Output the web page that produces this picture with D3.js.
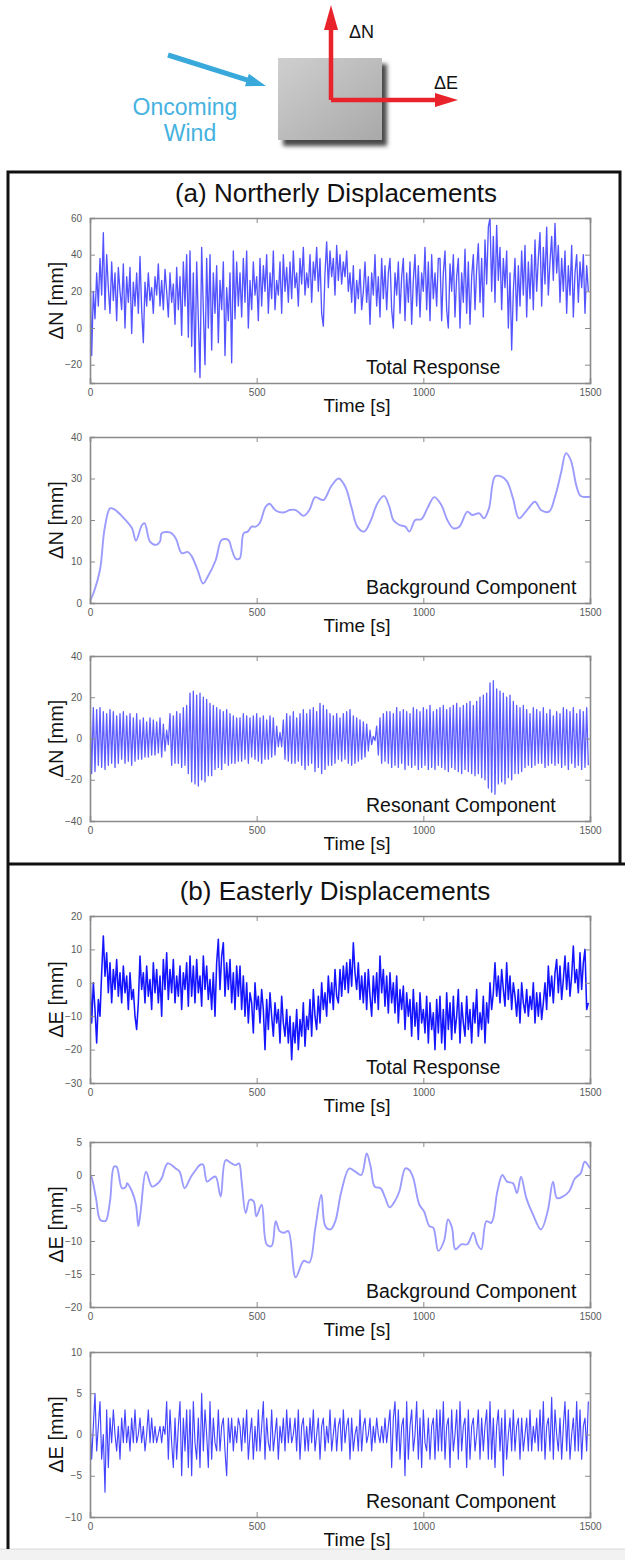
<!DOCTYPE html>
<html><head><meta charset="utf-8">
<script src="https://cdn.jsdelivr.net/npm/d3@7"></script>
<style>
html,body{margin:0;padding:0;background:#fff;}
svg{display:block;font-family:"Liberation Sans",Arial,sans-serif;}
</style></head>
<body>
<script>
// ---------------- DATA ----------------
const xTicks = [0, 500, 1000, 1500];
const dt = 5; // sampling step of the dense series [s]

// (a) Northerly – total response [mm]
const nTotal = [
 35,-15,20,5,30,12,38,18,52,10,40,22,8,36,15,30,4,33,20,10,35,0,28,14,33,-3,25,12,30,8,
 39,10,-8,25,12,30,15,22,8,28,18,35,12,26,10,32,20,6,30,14,24,2,33,10,28,-4,36,12,40,-5,
 42,-10,30,-24,36,5,-27,44,10,-20,38,0,40,-12,30,8,34,-8,26,10,36,-15,22,4,30,-19,42,5,36,12,
 30,6,38,14,42,0,26,10,36,18,28,4,38,12,34,20,40,8,30,16,42,10,26,18,36,8,40,20,33,14,
 36,16,42,22,30,12,38,24,44,18,30,22,40,14,36,26,44,20,38,8,1,30,47,22,42,28,38,18,45,26,
 40,24,36,28,42,20,30,14,34,8,26,16,32,10,20,36,14,28,2,30,18,40,12,28,6,38,16,34,10,30,
 38,10,0,30,18,36,8,28,38,4,30,14,36,2,26,40,12,34,6,30,20,44,10,36,4,40,16,30,12,38,
 38,4,30,42,10,0,35,20,40,6,28,38,0,30,14,43,8,36,2,28,40,10,32,46,14,38,6,48,24,55,
 60,20,50,14,56,26,44,10,38,22,42,0,30,-12,20,38,4,34,12,42,18,45,6,36,16,40,10,48,20,38,
 52,12,44,24,55,18,36,50,26,57,30,45,14,38,20,42,8,34,18,45,6,30,40,14,36,22,40,8,34,20
];
// (a) Northerly – background component
const nBgTime = [0,12,30,44,60,72,102,126,138,156,164,180,198,210,215,240,257,275,293,305,323,339,353,377,395,415,425,437,449,461,473,485,497,509,527,539,557,581,599,617,641,658,676,700,724,746,766,784,802,822,842,862,882,898,910,928,946,958,976,994,1012,1033,1054,1072,1090,1108,1132,1146,1168,1182,1197,1215,1233,1251,1269,1287,1311,1335,1353,1377,1395,1413,1428,1442,1460,1472,1500];
const nBgVal  = [0.5,2.7,8,18,22.8,22.6,20.4,18,15,18.8,19.2,14.8,14,14.8,16.8,17,15.6,12,12.3,11.3,7.9,4.7,6.3,10.3,15.2,15.2,13,10.7,10.7,16.8,17.2,18.4,18.4,19.2,23.2,23.9,22.3,21.8,22.4,22.4,21,22.4,25.5,24.8,28.2,30,28,23.2,18.4,17.2,19.8,24,25.8,23.2,20,18.8,18.4,17.2,20,20.2,22.8,25.5,23.6,20,18,18.4,22,21.2,21.6,20.4,22.8,30.5,30.5,29.3,25.2,20.4,22.4,24.4,22.4,22,25.6,31.3,36.1,34.5,28,25.8,25.6];
// (a) Northerly – resonant component
const nRes = [
 18,-17,15,-16,14,-13,15,-14,13,-15,12,-13,14,-12,13,-14,11,-12,12,-10,13,-12,11,-11,12,-13,10,-11,12,-10,
 9,-10,10,-9,8,-9,10,-8,9,-8,8,-7,10,-9,7,-6,4,-3,12,-13,11,-12,13,-12,12,-14,15,-13,16,-17,
 22,-21,23,-22,21,-23,22,-20,20,-21,19,-18,17,-18,16,-15,15,-14,14,-15,13,-12,14,-13,12,-12,11,-12,10,-11,
 10,-11,12,-10,11,-12,10,-9,11,-10,12,-11,10,-12,11,-10,9,-10,11,-9,10,-8,6,-4,3,-4,9,-10,12,-11,
 11,-12,13,-12,10,-11,12,-13,14,-15,12,-13,14,-12,15,-16,13,-14,17,-17,16,-15,14,-13,12,-13,11,-12,12,-10,
 10,-11,12,-10,13,-12,14,-13,11,-12,10,-11,9,-10,8,-9,7,-6,4,-3,1,-1,6,-8,10,-12,12,-11,13,-12,
 13,-14,12,-13,15,-14,13,-12,14,-15,13,-13,12,-14,15,-13,14,-15,13,-14,15,-13,14,-15,16,-14,13,-15,14,-13,
 15,-14,16,-15,14,-16,15,-14,16,-15,17,-16,15,-17,16,-15,17,-16,18,-17,16,-18,18,-17,20,-19,21,-20,22,-24,
 27,-26,28,-27,24,-22,23,-21,22,-22,20,-19,21,-20,18,-17,16,-17,15,-16,16,-14,14,-13,12,-14,15,-13,14,-12,
 13,-12,15,-14,12,-13,14,-12,11,-13,13,-12,12,-14,15,-13,14,-15,13,-12,15,-14,12,-13,14,-15,13,-14,15,-13
];
// (b) Easterly – total response
const eTotal = [
 2,-12,0,-8,-18,-5,-10,3,14,2,9,-3,6,-6,4,-2,7,-4,3,-6,5,-3,2,-8,3,-5,-2,-10,-14,-6,
 8,-2,3,-6,5,-4,1,-8,6,-3,4,-6,2,-10,7,-2,9,-5,4,-3,7,-6,2,-4,5,-8,3,-2,6,-7,
 8,-4,5,-6,7,-3,2,-7,8,-2,5,-5,1,-8,3,-10,6,13,-2,8,12,-4,6,-2,7,-6,3,-8,5,-4,
 5,-8,2,-10,0,-12,-3,-6,-15,0,-8,-4,-12,-2,-8,-20,-5,-14,-3,-10,-16,-6,-12,-8,-18,-4,-12,-16,-8,-18,
 -10,-23,-12,-18,-8,-20,-11,-16,-6,-19,-10,-14,-5,-16,-2,-10,-14,-4,-12,0,-8,-3,-10,2,-6,0,-8,4,-4,-6,
 4,-4,5,-2,6,-3,7,-1,12,3,-2,6,-5,2,-6,3,-8,4,-4,-10,2,-6,3,-8,8,-3,4,-7,2,-9,
 3,-6,0,-9,2,-12,-2,-8,-1,-14,-3,-10,-5,-16,-2,-13,-6,-17,-3,-12,-8,-15,-4,-18,-6,-14,-9,-20,-5,-15,
 -4,-18,-8,-20,-3,-14,-6,-17,-4,-15,-10,-2,-18,-6,-12,-16,-4,-14,-8,-18,-6,-12,-2,-16,-9,-14,-4,-18,-6,-12,
 0,-8,-3,6,-4,2,-6,4,-2,-7,6,-5,2,-8,0,-4,-10,-2,-12,0,-6,-9,-2,-10,-4,-8,0,-12,-3,-10,
 -3,-11,-6,0,-8,5,-4,2,-6,3,7,-3,5,-5,1,8,-2,6,-4,2,11,0,4,-3,9,-2,6,10,-8,-6
];
// (b) Easterly – background component
const eBgTime = [0,4,18,30,42,48,60,72,80,96,108,111,126,138,145,152,168,186,204,215,233,257,269,284,303,317,329,339,351,365,377,392,407,425,437,447,455,467,479,491,499,515,530,545,557,569,583,595,617,641,658,676,694,706,722,736,754,778,796,814,830,842,854,872,884,899,914,928,946,958,970,988,1002,1018,1030,1045,1062,1074,1086,1096,1114,1132,1150,1162,1174,1189,1204,1222,1237,1251,1269,1281,1293,1309,1329,1353,1373,1389,1401,1419,1437,1455,1472,1484,1500];
const eBgVal  = [0,-0.25,-3.5,-6.75,-7,-6.9,-4,1.25,1.25,-2,-1.75,-1.25,-2.5,-4.5,-7.75,-5.5,0.5,-1.75,-1.25,-0.5,1.75,1,0.5,-2,-0.25,0.75,1.5,1.6,-1,-0.5,-0.25,-3.25,2.25,1.75,1.5,1.75,-1,-5.75,-3.75,-4,-6.25,-4.5,-10.5,-10.75,-7,-8.5,-8.75,-8.5,-15.5,-13,-13.25,-8,-3,-7.75,-8.25,-7,-2.5,1,0.5,0,3.25,1.25,-1.75,-2,-3.25,-4.9,-4,-2.5,1,0.75,-0.5,-4.5,-5.5,-7.75,-8,-11.5,-10,-6.75,-8,-11.25,-10.5,-10.5,-8.75,-10.5,-11.25,-7,-7.25,-2.5,0,-1,-1.25,-2.75,-0.25,-3.5,-6,-8.25,-5.5,-1,-3.5,-3.25,-2.5,-0.5,0.25,2,1];
// (b) Easterly – resonant component
const eRes = [
 2,-3,1,5,-2,1,4,-3,0,-7,3,-4,2,-1,3,0,-2,1,-3,2,-1,3,-1,1,-2,2,-1,3,-1,0,
 2,-1,1,-2,0,3,-1,2,-1,1,-1,0,1,-1,1,0,4,-3,3,-1,-4,2,-3,1,4,-5,2,-2,3,-4,
 3,-5,4,-1,-3,2,-4,5,-2,3,0,-4,4,-3,2,-1,-2,3,-2,1,2,-2,-5,2,-1,2,-2,1,-1,2,
 1,-2,2,-1,3,-3,0,2,-3,1,-2,3,-2,1,4,-3,2,-1,-2,3,-2,0,2,-3,1,-1,2,-2,3,-1,
 2,-1,0,2,-2,3,-3,1,2,-2,1,-2,2,-1,3,-2,0,2,-3,1,2,-2,1,-1,3,-2,0,2,-2,1,
 2,-2,3,-1,1,2,-3,2,-2,0,1,-2,3,-2,1,2,-1,0,2,-2,1,-1,2,0,-1,1,-1,2,-1,1,
 3,-4,2,4,-2,3,-3,1,2,-5,4,-3,1,3,-2,0,4,-3,2,-4,3,-1,-2,2,-3,1,2,-3,3,-2,
 3,-2,4,-3,1,2,-4,3,-2,0,3,-3,4,-2,1,2,-4,3,-3,1,2,-2,0,3,-3,2,-2,1,3,-3,
 4,-3,2,-4,1,3,-2,2,-5,3,-3,0,2,-2,3,-2,1,2,-3,2,-2,0,2,-2,3,-2,1,-1,2,-2,
 3,-2,4,-3,1,2,-2,4.5,-3,3,0,-2,2,-3,1,4,-2,3,-3,0,2,-2,4,-2,3,-3,1,2,-2,4
];

const yTicksNTotal = [-20, 0, 20, 40, 60];
const yTicksNBg    = [0, 10, 20, 30, 40];
const yTicksNRes   = [-40, -20, 0, 20, 40];
const yTicksETotal = [-30, -20, -10, 0, 10, 20];
const yTicksEBg    = [-20, -15, -10, -5, 0, 5];
const yTicksERes   = [-10, -5, 0, 5, 10];

// ---------------- LAYOUT ----------------
const W = 625, H = 1560;
const X0 = 90, X1 = 590;
const svg = d3.select("body").append("svg").attr("width", W).attr("height", H);
const defs = svg.append("defs");

const toPts = (vals) => vals.map((v, i) => [i * dt, v]);
const zipPts = (ts, vs) => ts.map((t, i) => [t, vs[i]]);

const panels = [
  {top:218, bottom:383, dom:[-30,60], ticks:yTicksNTotal, pts:toPts(nTotal), color:"#4040ff", w:1.35, op:0.9, yl:"ΔN [mm]", lab:"Total Response", curve:d3.curveLinear},
  {top:437, bottom:603, dom:[0,40], ticks:yTicksNBg, pts:zipPts(nBgTime,nBgVal), color:"#9c9cff", w:1.9, op:1, yl:"ΔN [mm]", lab:"Background Component", curve:d3.curveCatmullRom},
  {top:656, bottom:821, dom:[-40,40], ticks:yTicksNRes, pts:toPts(nRes), color:"#4a4aff", w:1.3, op:0.9, yl:"ΔN [mm]", lab:"Resonant Component", curve:d3.curveLinear},
  {top:916, bottom:1083, dom:[-30,20], ticks:yTicksETotal, pts:toPts(eTotal), color:"#0808ff", w:1.55, op:0.95, yl:"ΔE [mm]", lab:"Total Response", curve:d3.curveLinear},
  {top:1142, bottom:1307, dom:[-20,5], ticks:yTicksEBg, pts:zipPts(eBgTime,eBgVal), color:"#9c9cff", w:1.9, op:1, yl:"ΔE [mm]", lab:"Background Component", curve:d3.curveCatmullRom},
  {top:1352, bottom:1517, dom:[-10,10], ticks:yTicksERes, pts:toPts(eRes), color:"#3030ff", w:1.15, op:0.9, yl:"ΔE [mm]", lab:"Resonant Component", curve:d3.curveLinear}
];

// ---------------- TOP DIAGRAM ----------------
const grad = defs.append("linearGradient").attr("id","face").attr("x1","0").attr("y1","0").attr("x2","1").attr("y2","1");
grad.append("stop").attr("offset","0").attr("stop-color","#cfcfcf");
grad.append("stop").attr("offset","1").attr("stop-color","#a9a9a9");
const blur = defs.append("filter").attr("id","blur").attr("x","-20%").attr("y","-20%").attr("width","140%").attr("height","140%");
blur.append("feGaussianBlur").attr("stdDeviation", 2.2);

svg.append("rect").attr("x",283).attr("y",64).attr("width",104).attr("height",82).attr("fill","#4a4a4a").attr("filter","url(#blur)");
svg.append("rect").attr("x",278).attr("y",58).attr("width",104).attr("height",82).attr("fill","url(#face)");

const red = "#e8232b";
svg.append("path").attr("d","M331,100 L331,26 M331,100 L438,100").attr("stroke",red).attr("stroke-width",4.5).attr("fill","none").attr("stroke-linejoin","miter");
svg.append("path").attr("d","M331,5 L324,30 L338,30 Z").attr("fill",red);
svg.append("path").attr("d","M458,100 L435,93 L435,107 Z").attr("fill",red);
svg.append("text").attr("x",349).attr("y",38).attr("font-size",18).attr("fill","#111").text("ΔN");
svg.append("text").attr("x",434).attr("y",89).attr("font-size",18).attr("fill","#111").text("ΔE");

// blue wind arrow
const bx0 = 168, by0 = 55, bx1 = 266, by1 = 86;
const L = Math.hypot(bx1-bx0, by1-by0), ux = (bx1-bx0)/L, uy = (by1-by0)/L;
const hb = 20, hw = 6.5;
const blue = "#38a9da";
svg.append("line").attr("x1",bx0).attr("y1",by0).attr("x2",bx1-ux*hb*0.8).attr("y2",by1-uy*hb*0.8).attr("stroke",blue).attr("stroke-width",5);
svg.append("path").attr("d",`M${bx1},${by1} L${bx1-ux*hb-uy*hw},${by1-uy*hb+ux*hw} L${bx1-ux*hb+uy*hw},${by1-uy*hb-ux*hw} Z`).attr("fill",blue);
svg.append("text").attr("x",185).attr("y",115).attr("text-anchor","middle").attr("font-size",23).attr("fill","#45b2e0").text("Oncoming");
svg.append("text").attr("x",190).attr("y",141).attr("text-anchor","middle").attr("font-size",23).attr("fill","#45b2e0").text("Wind");

// ---------------- OUTER BOXES ----------------
svg.append("rect").attr("x",0).attr("y",1549).attr("width",W).attr("height",11).attr("fill","#f2f2f2");
svg.append("line").attr("x1",0).attr("x2",W).attr("y1",1549).attr("y2",1549).attr("stroke","#d8d8d8").attr("stroke-width",1);
svg.append("path").attr("d","M8,1549 L8,172 L620,172 L620,864 L8,864 M8,864 L625,864").attr("fill","none").attr("stroke","#111").attr("stroke-width",3);

svg.append("text").attr("x",336).attr("y",202).attr("text-anchor","middle").attr("font-size",26).attr("fill","#111").text("(a) Northerly Displacements");
svg.append("text").attr("x",335).attr("y",900).attr("text-anchor","middle").attr("font-size",26).attr("fill","#111").text("(b) Easterly Displacements");

// ---------------- PANELS ----------------
const x = d3.scaleLinear().domain([0,1500]).range([X0,X1]);
panels.forEach((p, k) => {
  const y = d3.scaleLinear().domain(p.dom).range([p.bottom, p.top]);
  const g = svg.append("g");
  const cid = "clip" + k;
  defs.append("clipPath").attr("id",cid).append("rect").attr("x",X0).attr("y",p.top).attr("width",X1-X0).attr("height",p.bottom-p.top);

  // data line
  const line = d3.line().x(d => x(d[0])).y(d => y(d[1])).curve(p.curve);
  g.append("path").datum(p.pts).attr("clip-path",`url(#${cid})`).attr("d",line)
    .attr("fill","none").attr("stroke",p.color).attr("stroke-width",p.w).attr("stroke-linejoin","round").attr("opacity",p.op);

  // axes (MATLAB style: inward ticks on all sides)
  const tickCol = "#8a8a8a";
  const axB = g.append("g").attr("transform",`translate(0,${p.bottom})`).call(d3.axisBottom(x).tickValues(xTicks).tickSize(-5).tickPadding(9).tickFormat(d3.format("d")));
  const axT = g.append("g").attr("transform",`translate(0,${p.top})`).call(d3.axisTop(x).tickValues(xTicks).tickSize(-5).tickFormat(""));
  const axL = g.append("g").attr("transform",`translate(${X0},0)`).call(d3.axisLeft(y).tickValues(p.ticks).tickSize(-5).tickPadding(8).tickFormat(d3.format("d")));
  const axR = g.append("g").attr("transform",`translate(${X1},0)`).call(d3.axisRight(y).tickValues(p.ticks).tickSize(-5).tickFormat(""));
  [axB,axT,axL,axR].forEach(a => {
    a.select(".domain").attr("stroke",tickCol).attr("stroke-width",1.6);
    a.selectAll(".tick line").attr("stroke",tickCol).attr("stroke-width",1);
    a.selectAll("text").attr("fill","#5a5a5a").attr("font-size",10).attr("font-family","Liberation Sans, Arial, sans-serif");
  });
  axB.selectAll(".tick text").attr("dy","0.35em");

  // labels
  svg.append("text").attr("x",357).attr("y",p.bottom+29).attr("text-anchor","middle").attr("font-size",19).attr("fill","#111").text("Time [s]");
  const cy = (p.top+p.bottom)/2;
  svg.append("text").attr("transform",`translate(63,${cy}) rotate(-90)`).attr("text-anchor","middle").attr("font-size",20).attr("fill","#111").text(p.yl);
  svg.append("text").attr("x",366).attr("y",p.bottom-9).attr("font-size",19.5).attr("fill","#111").text(p.lab);
});
</script>
</body></html>
